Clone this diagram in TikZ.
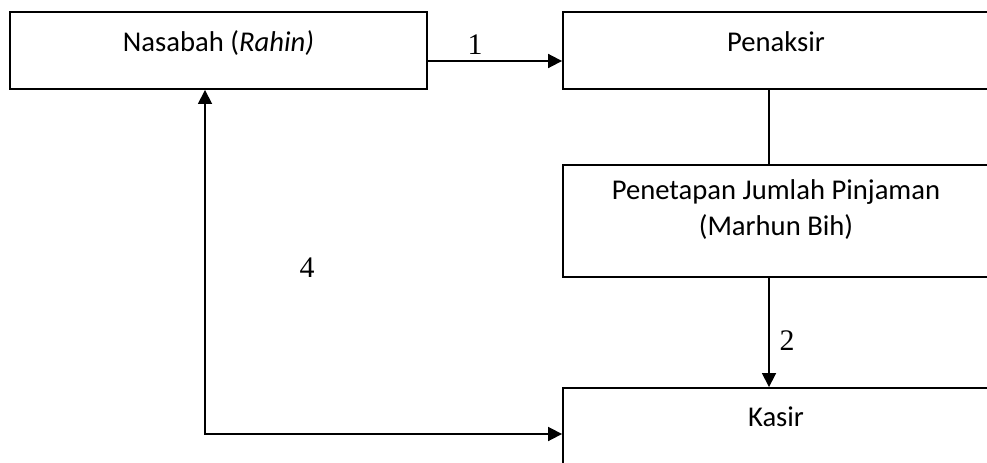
\documentclass[tikz,border=0pt]{standalone}
\usepackage{fontspec}
\setmainfont{Carlito}
\newfontfamily\numfont{Liberation Serif}
\usetikzlibrary{arrows.meta, positioning}

\begin{document}
\begin{tikzpicture}[
        x=0.02cm, y=-0.02cm,
        box/.style={rectangle, draw, line width=1.1pt, inner sep=0pt, align=center,
            font=\fontsize{16.3}{20.4}\selectfont},
        num/.style={font=\numfont\fontsize{17}{18}\selectfont, inner sep=0pt},
        arrow/.style={-{Triangle[length=0.28cm, width=0.28cm]}, line width=1pt},
        arrows2/.style={{Triangle[length=0.28cm, width=0.28cm]}-{Triangle[length=0.28cm, width=0.28cm]}, line width=1pt}
    ]
        \clip (0,0) rectangle (987,463);

        % Boxes
        \node[box, minimum width=8.34cm, text height=0.79cm, text depth=0.75cm] (nasabah) at (218.5,50.5) {Nasabah (\textit{Rahin)}};
        \node[box, minimum width=8.52cm, text height=0.79cm, text depth=0.75cm] (penaksir) at (776,50.5) {Penaksir};
        \node[box, minimum width=8.52cm, text height=1.41cm, text depth=0.83cm] (penetapan) at (776,220.7) {Penetapan Jumlah Pinjaman\\(Marhun Bih)};
        \node[box, minimum width=8.52cm, text height=0.77cm, text depth=1.07cm] (kasir) at (776,434) {Kasir};

        % Numbers
        \node[num] (n1) at (475,45) {1};
        \node[num] (n2) at (787,341) {2};
        \node[num] (n4) at (307,268) {4};

        % Arrows
        \draw[arrow] ([yshift=-0.21cm]nasabah.east) -- ([yshift=-0.21cm]penaksir.west);
        \draw[line width=1pt] ([xshift=-0.14cm]penaksir.south) -- ([xshift=-0.14cm]penetapan.north);
        \draw[arrow] ([xshift=-0.14cm]penetapan.south) -- ([xshift=-0.14cm]kasir.north);
        \draw[arrows2] (kasir.west) -| ([xshift=-0.27cm]nasabah.south);
    \end{tikzpicture}
\end{document}
